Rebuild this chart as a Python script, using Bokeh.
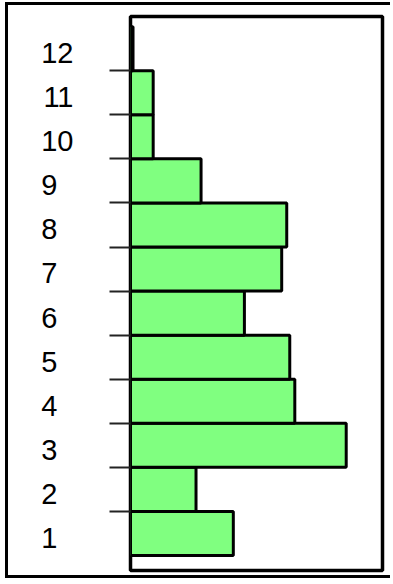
from bokeh.plotting import figure
from bokeh.models import FixedTicker, Range1d
from bokeh.embed import file_html
from bokeh.resources import INLINE

categories = ["1", "2", "3", "4", "5", "6", "7", "8", "9", "10", "11", "12"]
values = [10.2, 6.5, 21.4, 16.3, 15.8, 11.3, 15.0, 15.5, 7.0, 2.25, 2.25, 0.25]

ypos = list(range(1, len(categories) + 1))
bounds = [y + 0.5 for y in ypos[:-1]]
LABEL_DROP = 0.1  # labels sit slightly below the band centre, as in the original

p = figure(width=385, height=576, output_backend="svg", toolbar_location=None,
           x_range=Range1d(0, 25), y_range=Range1d(0.16, 12.73),
           min_border_left=122, min_border_right=11, min_border_top=11, min_border_bottom=11,
           styles={"border-left": "3px solid black", "border-top": "3px solid black",
                   "border-bottom": "3px solid black", "margin-left": "5px",
                   "margin-top": "2px"})

p.hbar(y=ypos, right=values, left=0, height=1.0, fill_color="#80FF80",
       line_color="black", line_width=3)

p.xaxis.visible = False
p.xgrid.visible = False
p.ygrid.visible = False
p.outline_line_color = "black"
p.outline_line_width = 3.5
p.background_fill_color = "white"
p.border_fill_color = "white"

ax = p.yaxis[0]
label_pos = [y - LABEL_DROP for y in ypos]
ax.ticker = FixedTicker(ticks=label_pos, minor_ticks=bounds)
ax.major_label_overrides = {t: (c if len(c) > 1 else c + "\u2007")
                            for t, c in zip(label_pos, categories)}
ax.axis_line_color = None
ax.major_tick_out = 0
ax.major_tick_in = 0
ax.minor_tick_out = 21
ax.minor_tick_in = 0
ax.minor_tick_line_color = "#222222"
ax.minor_tick_line_width = 2
ax.major_label_standoff = 36
ax.major_label_text_font = "Liberation Sans"
ax.major_label_text_font_size = "29px"
ax.major_label_text_color = "black"

open("out.html", "w").write(file_html(p, INLINE))
